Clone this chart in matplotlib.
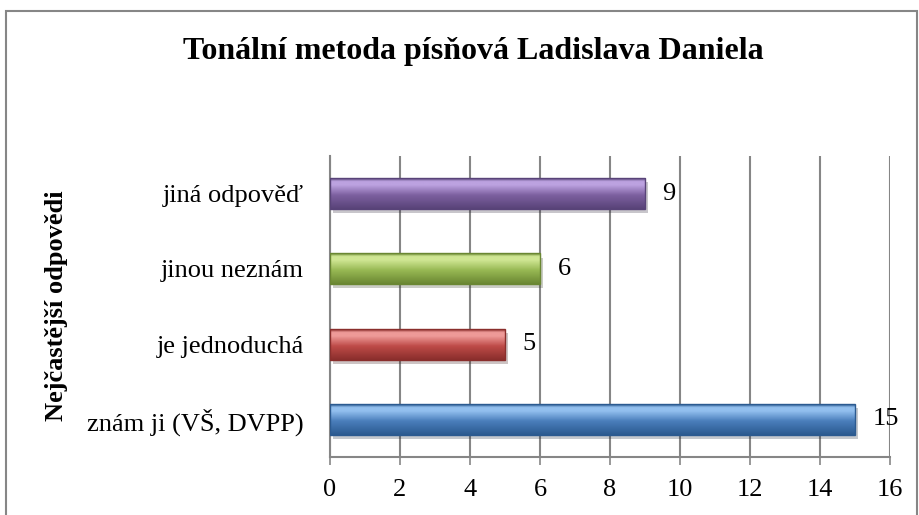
import numpy as np
import matplotlib
matplotlib.use("Agg")
import matplotlib.pyplot as plt
from matplotlib.colors import LinearSegmentedColormap
from matplotlib.patches import Rectangle
import matplotlib.patheffects as pe

plt.rcParams['font.family'] = ['Liberation Serif', 'DejaVu Serif']

# data (bottom to top)
categories = ["znám ji (VŠ, DVPP)", "je jednoduchá", "jinou neznám", "jiná odpověď"]
values = [15, 5, 6, 9]
# (dark, base, light) per bar
bar_colors = [("#2B5A90", "#4A7EBB", "#92BFEE"),
              ("#8A2E2C", "#BE4B48", "#EE9A98"),
              ("#6A8732", "#98B954", "#CFE693"),
              ("#584378", "#7D60A0", "#BCA2E0")]
xticks = [0, 2, 4, 6, 8, 10, 12, 14, 16]
title = "Tonální metoda písňová Ladislava Daniela"
ylabel = "Nejčastější odpovědi"

fig = plt.figure(figsize=(9.2, 5.15), dpi=100)
ax = fig.add_axes([330/920, 1 - 457/515, 560/920, 301/515])

y = np.arange(len(categories))
bars = ax.barh(y, values, height=0.41, color="none", zorder=3)

# gradient fill for each bar
for bar, (dark, base, light) in zip(bars, bar_colors):
    bar.set_path_effects([pe.SimplePatchShadow(offset=(2, -3), alpha=0.25), pe.Normal()])
    bar.set_facecolor(base)
    cmap = LinearSegmentedColormap.from_list(
        "g", [(0.0, dark), (0.45, base), (0.78, light), (0.9, light), (1.0, dark)])
    prof = np.linspace(0, 1, 64).reshape(-1, 1) * np.ones((1, 2))
    x0, y0 = bar.get_x(), bar.get_y()
    w, h = bar.get_width(), bar.get_height()
    im = ax.imshow(prof, cmap=cmap, aspect="auto", origin="lower",
                   extent=[x0, x0 + w, y0, y0 + h], zorder=4, interpolation="bilinear")
    im.set_clip_path(bar)
    ax.add_patch(Rectangle((x0, y0), w, h, fill=False, edgecolor=dark, lw=1.0, zorder=5))
    ax.text(x0 + w + 0.5, y0 + h / 2, f"{w:g}",
            va="center", ha="left", fontsize=19, zorder=6)

ax.set_xlim(0, 16)
ax.set_ylim(-0.5, len(categories) - 0.5)
ax.set_xticks(xticks)
ax.set_xticklabels([str(t) for t in xticks], fontsize=19)
ax.set_yticks(y)
ax.set_yticklabels(categories, fontsize=19)
ax.tick_params(axis="y", length=0, pad=19)
ax.tick_params(axis="x", length=6, width=1.2, color="#868686", pad=10, direction="out")
ax.grid(axis="x", color="#868686", lw=1.5, zorder=1)
ax.set_axisbelow(True)
for s in ["top", "right"]:
    ax.spines[s].set_visible(False)
for s in ["left", "bottom"]:
    ax.spines[s].set_color("#868686")
    ax.spines[s].set_linewidth(1.5)

fig.text(473/920, 1 - 52/515, title, ha="center", va="center",
         fontsize=23, fontweight="bold")
fig.text(57/920, 1 - 306/515, ylabel, ha="center", va="center", rotation=90,
         fontsize=19, fontweight="bold")

fig.patches.append(Rectangle((6/920, -0.1), 911/920, 1.1 - 11/515, transform=fig.transFigure,
                             fill=False, edgecolor="#868686", lw=1.5, clip_on=False))

fig.savefig("out.png", dpi=100)
